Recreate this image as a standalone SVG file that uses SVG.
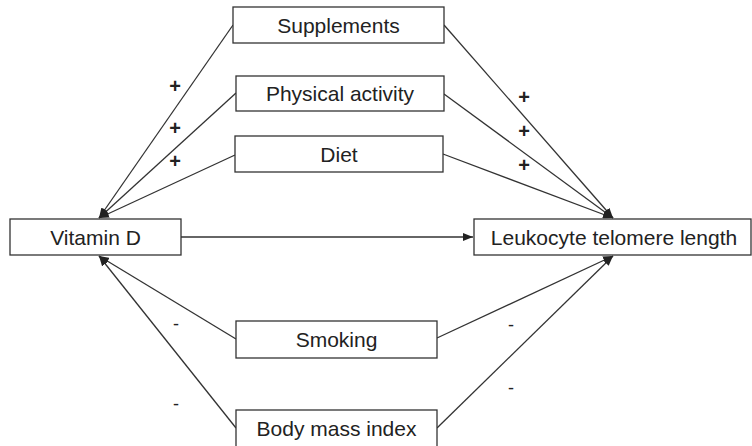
<svg xmlns="http://www.w3.org/2000/svg" width="752" height="446" viewBox="0 0 752 446">
<style>
.box{fill:#fff;stroke:#333;stroke-width:1.3}
.lbl{font-family:"Liberation Sans",Arial,sans-serif;font-size:21px;fill:#222;text-anchor:middle}
.sign{font-family:"Liberation Sans",Arial,sans-serif;font-size:20px;font-weight:bold;fill:#222;text-anchor:middle}
.minus{font-family:"Liberation Sans",Arial,sans-serif;font-size:18px;fill:#222;text-anchor:middle}
.edge{stroke:#333;stroke-width:1.3;fill:none;marker-end:url(#ah)}
</style>
<defs>
<marker id="ah" viewBox="0 0 10 8" refX="10" refY="4" markerWidth="10" markerHeight="8" markerUnits="userSpaceOnUse" orient="auto">
<path d="M0,0 L10,4 L0,8 Z" fill="#222"/>
</marker>
</defs>
<rect width="752" height="446" fill="#fff"/>
<g id="connectors">
<line class="edge" x1="233" y1="25" x2="99" y2="218"/>
<line class="edge" x1="236" y1="93" x2="99" y2="218"/>
<line class="edge" x1="235" y1="155" x2="99" y2="218"/>
<line class="edge" x1="444" y1="25" x2="613" y2="218"/>
<line class="edge" x1="444" y1="94" x2="613" y2="218"/>
<line class="edge" x1="443" y1="154" x2="613" y2="218"/>
<line class="edge" x1="181" y1="237" x2="473" y2="237"/>
<line class="edge" x1="236" y1="339" x2="99" y2="256"/>
<line class="edge" x1="236" y1="428" x2="99" y2="256"/>
<line class="edge" x1="437" y1="338" x2="613" y2="256"/>
<line class="edge" x1="437" y1="428" x2="613" y2="256"/>
</g>
<g id="signs">
<text class="sign" x="175" y="93">+</text>
<text class="sign" x="175" y="135">+</text>
<text class="sign" x="175" y="168">+</text>
<text class="sign" x="524" y="104">+</text>
<text class="sign" x="524" y="138">+</text>
<text class="sign" x="524" y="172">+</text>
<text class="minus" x="176" y="330">-</text>
<text class="minus" x="176" y="410">-</text>
<text class="minus" x="511" y="331">-</text>
<text class="minus" x="511" y="394">-</text>
</g>
<g id="supplements">
<rect class="box" x="233" y="7" width="211" height="36"/>
<text class="lbl" x="338.5" y="32.5">Supplements</text>
</g>
<g id="physical-activity">
<rect class="box" x="236" y="76" width="208" height="35"/>
<text class="lbl" x="340" y="101">Physical activity</text>
</g>
<g id="diet">
<rect class="box" x="235" y="136" width="208" height="36"/>
<text class="lbl" x="339" y="161.5">Diet</text>
</g>
<g id="vitamin-d">
<rect class="box" x="10" y="219" width="171" height="36"/>
<text class="lbl" x="95.5" y="244.5">Vitamin D</text>
</g>
<g id="leukocyte-telomere-length">
<rect class="box" x="474" y="219" width="277" height="36"/>
<text class="lbl" x="614" y="244.5">Leukocyte telomere length</text>
</g>
<g id="smoking">
<rect class="box" x="236" y="321" width="201" height="37"/>
<text class="lbl" x="336.5" y="347">Smoking</text>
</g>
<g id="body-mass-index">
<rect class="box" x="236" y="410" width="201" height="40"/>
<text class="lbl" x="336.5" y="436">Body mass index</text>
</g>
</svg>
